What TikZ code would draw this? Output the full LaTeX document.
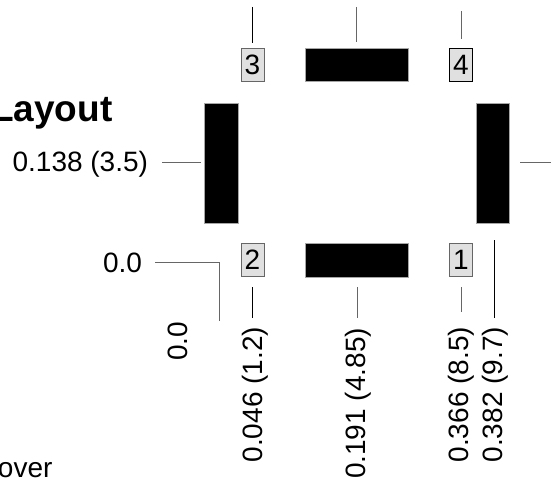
\documentclass[tikz,border=0pt]{standalone}
\usepackage{fontspec}
\setmainfont{Liberation Sans}
\tikzset{
  x=1pt,y=-1pt,
  bar/.style={fill=black,draw=black!35,line width=0.5pt,inner sep=0,outer sep=0},
  pinbox/.style={fill=black!12,draw=black!60,line width=0.7pt,inner sep=0,outer sep=0,minimum width=23pt,minimum height=33.5pt,font=\fontsize{28}{30}\selectfont},
  dim/.style={font=\fontsize{28}{30}\selectfont,inner sep=0,outer sep=0},
  vdim/.style={dim,rotate=90,anchor=base east},
  lead/.style={draw=black!60,line width=0.8pt},
  leaddark/.style={draw=black,line width=0.6pt},
}
\begin{document}
\begin{tikzpicture}
\useasboundingbox (0,0) rectangle (556,478);
\node[bar,minimum width=33.5pt,minimum height=120pt] (L) at (221,163) {};
\node[bar,minimum width=33.5pt,minimum height=120pt] (R) at (492.5,163) {};
\node[bar,minimum width=103.5pt,minimum height=33.5pt] (T) at (356.8,64.8) {};
\node[bar,minimum width=103.5pt,minimum height=33.5pt] (B) at (356.8,260) {};
\node[pinbox] (p3) at (252.5,64.8) {3};
\node[pinbox,draw=black] (p4) at (461,64.8) {4};
\node[pinbox] (p2) at (252.5,260) {2};
\node[pinbox] (p1) at (461,260) {1};
\node[dim,anchor=base east,font=\fontsize{37}{39}\selectfont\bfseries] (title) at (112.5,122) {Layout};
\node[dim,anchor=base west] (over) at (-2,477) {over};
\node[dim,anchor=base east] (d138) at (148,172) {0.138 (3.5)};
\node[dim,anchor=base east] (d00h) at (142,272) {0.0};
\node[vdim] (d00v) at (187,322) {0.0};
\node[vdim] (d046) at (262,327) {0.046 (1.2)};
\node[vdim] (d191) at (365,328) {0.191 (4.85)};
\node[vdim] (d366) at (468,327) {0.366 (8.5)};
\node[vdim] (d382) at (502,327) {0.382 (9.7)};
\coordinate (a1) at (252.5,7); \coordinate (a2) at (252.5,43);
\coordinate (b1) at (356.8,7); \coordinate (b2) at (356.8,42);
\coordinate (c1) at (461,11); \coordinate (c2) at (461,39);
\coordinate (e1) at (520,162.5); \coordinate (e2) at (551,162.5);
\coordinate (f1) at (162,162.5); \coordinate (f2) at (201,162.5);
\coordinate (g1) at (155,262); \coordinate (g2) at (219,262); \coordinate (g3) at (219,321);
\coordinate (h1) at (252.5,287); \coordinate (h2) at (252.5,318);
\coordinate (i1) at (357,287); \coordinate (i2) at (357,318);
\coordinate (j1) at (461,287); \coordinate (j2) at (461,312);
\coordinate (k1) at (494.5,240); \coordinate (k2) at (494.5,318);
\draw[leaddark] (a1)--(a2);
\draw[lead] (b1)--(b2);
\draw[lead] (c1)--(c2);
\draw[lead] (e1)--(e2);
\draw[lead] (f1)--(f2);
\draw[lead] (g1)--(g2)--(g3);
\draw[leaddark] (h1)--(h2);
\draw[lead] (i1)--(i2);
\draw[lead] (j1)--(j2);
\draw[leaddark] (k1)--(k2);
\end{tikzpicture}
\end{document}
